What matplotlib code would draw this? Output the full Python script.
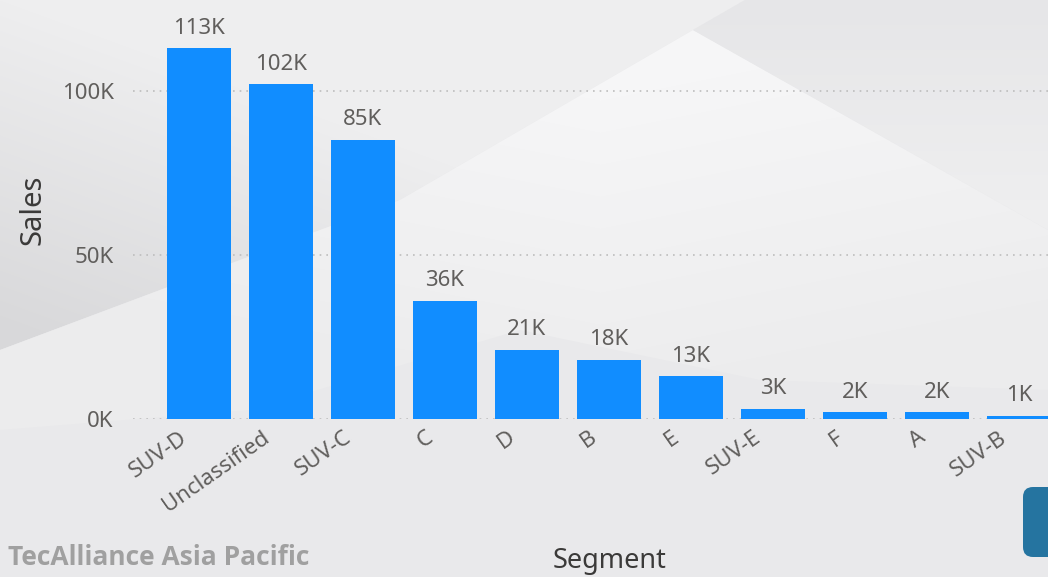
import matplotlib
matplotlib.use("Agg")
import matplotlib.pyplot as plt
from matplotlib.patches import Polygon, FancyBboxPatch
from matplotlib.colors import to_rgb
import numpy as np

# sales by vehicle segment (thousands)
segments = ["SUV-D", "Unclassified", "SUV-C", "C", "D", "B", "E", "SUV-E", "F", "A", "SUV-B"]
sales_k = [113, 102, 85, 36, 21, 18, 13, 3, 2, 2, 1]
y_ticks = [0, 50, 100]
y_tick_labels = ["0K", "50K", "100K"]

BAR = "#118DFF"
TXT = "#605E5C"
TITLE = "#3B3A39"
plt.rcParams["font.family"] = ["Noto Sans", "DejaVu Sans"]

W, H = 1048, 577
fig = plt.figure(figsize=(W / 100, H / 100), dpi=100)
fig.patch.set_facecolor("#E9E9EB")

# background panel in pixel units
bg = fig.add_axes([0, 0, 1, 1], zorder=0)
bg.set_xlim(0, W)
bg.set_ylim(H, 0)
bg.axis("off")

yy, xx = np.mgrid[0:H, 0:W]


def shade(pts, c0, c1, t):
    # fill a polygon with a blend between two greys
    t = np.clip(t, 0, 1)[..., None]
    img = np.array(to_rgb(c0)) * (1 - t) + np.array(to_rgb(c1)) * t
    poly = Polygon(pts, closed=True, facecolor="none", edgecolor="none", transform=bg.transData)
    bg.add_patch(poly)
    im = bg.imshow(img, extent=(0, W, H, 0), interpolation="bilinear", zorder=0)
    im.set_clip_path(poly)


bg.imshow(np.ones((H, W, 3)) * np.array(to_rgb("#E9E9EB")), extent=(0, W, H, 0), zorder=0)
# upper left, darker towards the left edge
shade([(0, 0), (745, 0), (693, 30), (400, 200), (0, 350)],
      "#EEEEEF", "#D8D8DA", yy / 330 - xx / 900)
# light wedge in the middle
shade([(0, 350), (400, 200), (693, 30), (1048, 230), (1048, 390), (760, 380),
       (520, 330), (250, 410), (0, 430)],
      "#F6F6F7", "#ECECED", (yy - 100) / 320 + np.abs(xx - 600) / 1600)
# upper right
shade([(693, 30), (745, 0), (1048, 0), (1048, 230)],
      "#E6E6E8", "#EEEEEF", (yy - 0) / 200)
bg.set_xlim(0, W)
bg.set_ylim(H, 0)

bg.add_patch(FancyBboxPatch((1023, 487), 60, 70, boxstyle="round,pad=0,rounding_size=10",
                            facecolor="#2574A0", edgecolor="none", zorder=2))
bg.text(8, 565, "TecAlliance Asia Pacific", fontsize=19, fontweight="bold",
        color="#A0A0A0", va="baseline", ha="left", family=["Open Sans", "DejaVu Sans"], zorder=2)

# chart area
ax = fig.add_axes([133 / W, (H - 419) / H, (1087 - 133) / W, 419 / H], zorder=1)
ax.patch.set_alpha(0)
x = np.arange(len(segments))
bars = ax.bar(x, sales_k, width=0.78, color=BAR, zorder=3)
ax.bar_label(bars, labels=[f"{v}K" for v in sales_k], padding=7,
             fontsize=16, color=TXT)

ax.set_xlim(-0.805, 10.83)
ax.set_ylim(0, 127.7)
ax.set_yticks(y_ticks, y_tick_labels)
ax.set_xticks(x, [])
ax.tick_params(axis="y", length=0, pad=14, labelsize=16, labelcolor=TXT)
ax.tick_params(axis="x", length=0)

# slanted category names under each bar
for xi, name in zip(x, segments):
    ax.annotate(name, (xi, 0), xycoords=("data", "axes fraction"),
                xytext=(-10, -12), textcoords="offset points",
                rotation=35, rotation_mode="anchor", ha="right", va="center",
                fontsize=16, color=TXT, annotation_clip=False)

ax.yaxis.grid(True, linestyle=(0, (1, 3)), color="#BDBDBD", linewidth=1.2, zorder=1)
for s in ax.spines.values():
    s.set_visible(False)

ax.set_xlabel("Segment", fontsize=19.5, color=TITLE, fontweight="medium")
ax.xaxis.set_label_coords(0.5, (419 - 568) / 419)
ax.xaxis.label.set_va("baseline")
ax.set_ylabel("Sales", fontsize=21, color=TITLE, fontweight="medium")
ax.yaxis.set_label_coords((33 - 133) / 954, 0.5)
ax.yaxis.label.set_va("center")

fig.savefig("out.png", dpi=100, facecolor=fig.get_facecolor())
